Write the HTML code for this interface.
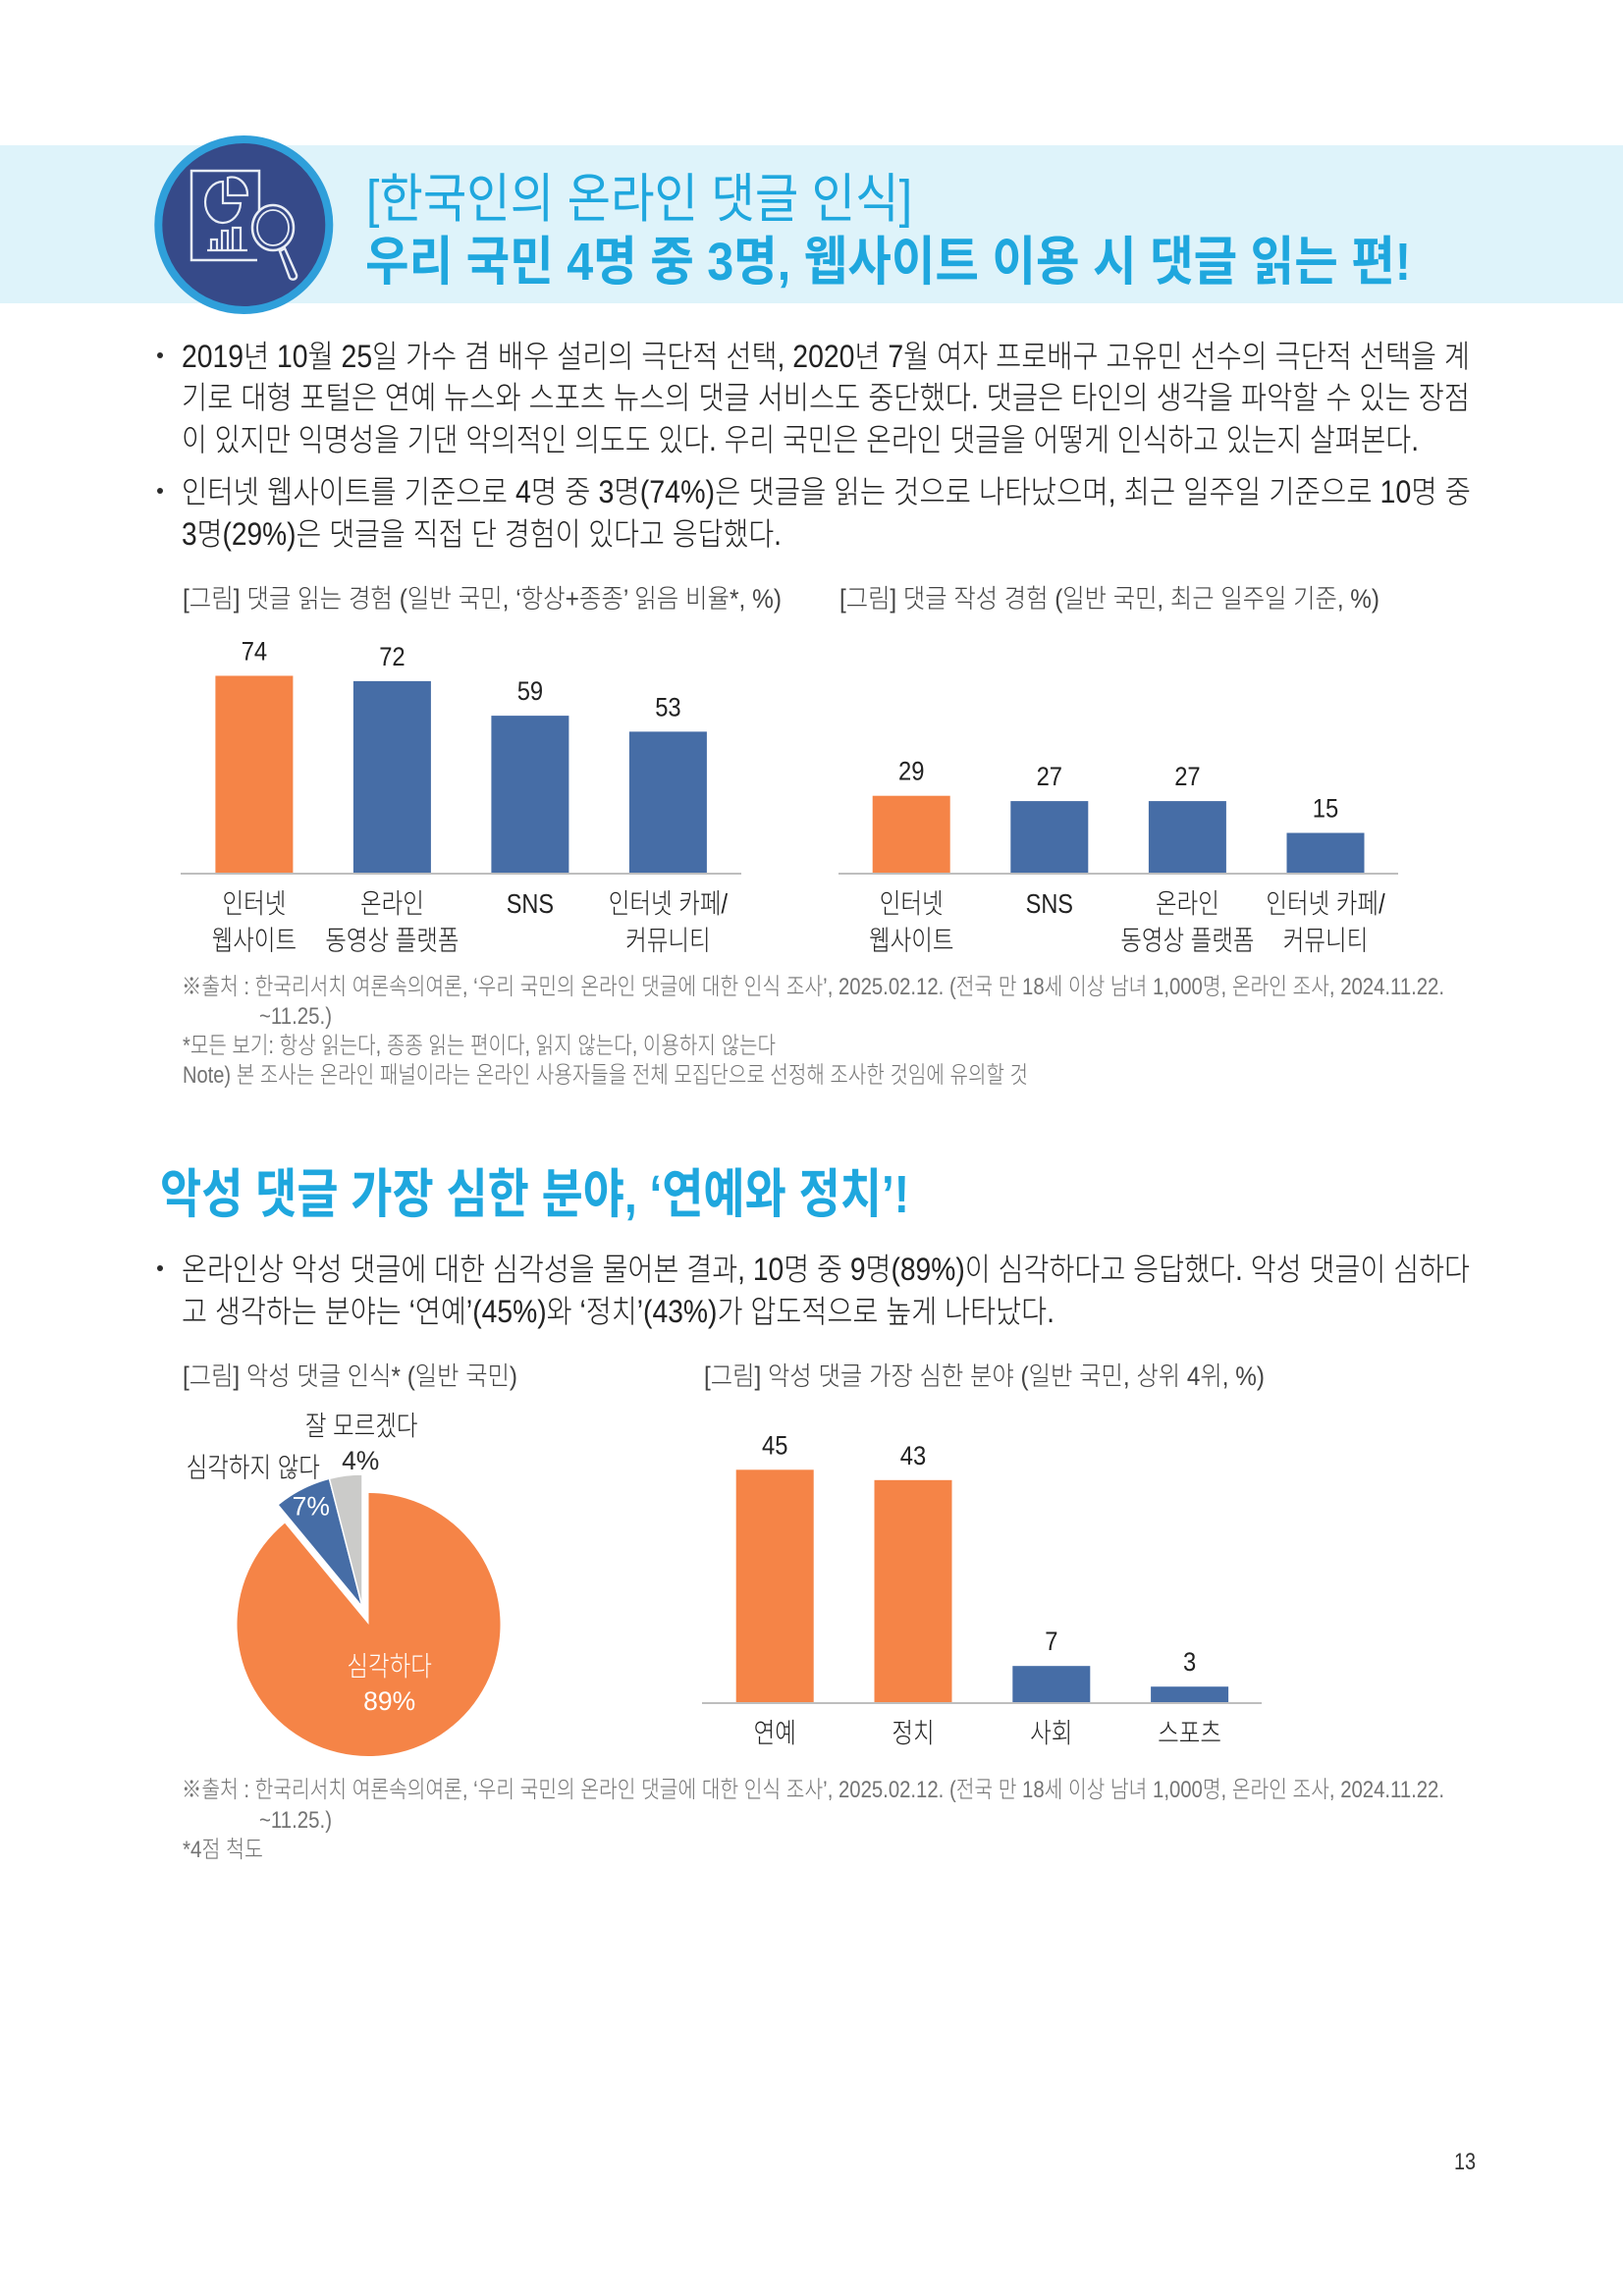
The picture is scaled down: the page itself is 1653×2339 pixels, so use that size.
<!DOCTYPE html>
<html lang="ko">
<head>
<meta charset="utf-8">
<title>한국인의 온라인 댓글 인식</title>
<style>
html,body{margin:0;padding:0;background:#fff;}
svg{display:block;}
text{font-family:"Liberation Sans","Noto Sans CJK KR",sans-serif;font-weight:300;}
.body{font-size:32px;fill:#222;}
.cap{font-size:26.5px;fill:#444;}
.note{font-size:24px;fill:#737373;}
.head{font-size:54px;fill:#1fa7de;}
.reg{font-weight:400;}
.b{font-weight:700;}
</style>
</head>
<body>
<svg id="page" xmlns="http://www.w3.org/2000/svg" width="1653" height="2339" viewBox="0 0 1653 2339">
  <rect x="0" y="148" width="1653" height="161" fill="#def3fa"/>
  <g>
    <circle cx="248.3" cy="229" r="87" fill="#364a89" stroke="#2f9fda" stroke-width="8"/>
    <path d="M264 250V174H195V265H262" fill="none" stroke="#e8edf5" stroke-width="2.5"/>
    <path d="M227 185A18 21 0 1 0 245 207H227ZM232 181A16 18 0 0 1 252 199H232Z" fill="none" stroke="#e8edf5" stroke-width="2.2"/>
    <path d="M215 255V244H221V255M226 255V235H232V255M237 255V232H245V255M211 255H252" fill="none" stroke="#e8edf5" stroke-width="2.2"/>
    <ellipse cx="278" cy="232" rx="21" ry="23" fill="#364a89" stroke="#e8edf5" stroke-width="2.5"/>
    <ellipse cx="278" cy="232" rx="16" ry="18" fill="none" stroke="#e8edf5" stroke-width="1.8"/>
    <path d="M285 256L290 253L302 280C303 285 297 286 295 283Z" fill="none" stroke="#e8edf5" stroke-width="2.4"/>
  </g>
  <text class="head reg" x="373" y="221" textLength="556" lengthAdjust="spacingAndGlyphs">[한국인의 온라인 댓글 인식]</text>
  <text class="head b" x="372" y="285" textLength="1065" lengthAdjust="spacingAndGlyphs">우리 국민 4명 중 3명, 웹사이트 이용 시 댓글 읽는 편!</text>

  <circle cx="163" cy="362" r="3" fill="#2b2b2b"/>
  <text class="body" x="185" y="374" textLength="1312" lengthAdjust="spacingAndGlyphs">2019년 10월 25일 가수 겸 배우 설리의 극단적 선택, 2020년 7월 여자 프로배구 고유민 선수의 극단적 선택을 계</text>
  <text class="body" x="185" y="416" textLength="1312" lengthAdjust="spacingAndGlyphs">기로 대형 포털은 연예 뉴스와 스포츠 뉴스의 댓글 서비스도 중단했다. 댓글은 타인의 생각을 파악할 수 있는 장점</text>
  <text class="body" x="185" y="459" textLength="1260" lengthAdjust="spacingAndGlyphs">이 있지만 익명성을 기댄 악의적인 의도도 있다. 우리 국민은 온라인 댓글을 어떻게 인식하고 있는지 살펴본다.</text>
  <circle cx="163" cy="500" r="3" fill="#2b2b2b"/>
  <text class="body" x="185" y="512" textLength="1313" lengthAdjust="spacingAndGlyphs">인터넷 웹사이트를 기준으로 4명 중 3명(74%)은 댓글을 읽는 것으로 나타났으며, 최근 일주일 기준으로 10명 중</text>
  <text class="body" x="185" y="555" textLength="611" lengthAdjust="spacingAndGlyphs">3명(29%)은 댓글을 직접 단 경험이 있다고 응답했다.</text>

  <text class="cap" x="186" y="619" textLength="610" lengthAdjust="spacingAndGlyphs">[그림] 댓글 읽는 경험 (일반 국민, ‘항상+종종’ 읽음 비율*, %)</text>
  <text class="cap" x="855" y="619" textLength="550" lengthAdjust="spacingAndGlyphs">[그림] 댓글 작성 경험 (일반 국민, 최근 일주일 기준, %)</text>
  <g id="chart-reading"></g>
  <g id="chart-writing"></g>

  <text class="note" x="185" y="1013" textLength="1286" lengthAdjust="spacingAndGlyphs">※출처 : 한국리서치 여론속의여론, ‘우리 국민의 온라인 댓글에 대한 인식 조사’, 2025.02.12. (전국 만 18세 이상 남녀 1,000명, 온라인 조사, 2024.11.22.</text>
  <text class="note" x="264" y="1043" textLength="74" lengthAdjust="spacingAndGlyphs">~11.25.)</text>
  <text class="note" x="186" y="1073" textLength="604" lengthAdjust="spacingAndGlyphs">*모든 보기: 항상 읽는다, 종종 읽는 편이다, 읽지 않는다, 이용하지 않는다</text>
  <text class="note" x="186" y="1103" textLength="861" lengthAdjust="spacingAndGlyphs">Note) 본 조사는 온라인 패널이라는 온라인 사용자들을 전체 모집단으로 선정해 조사한 것임에 유의할 것</text>

  <text class="head b" x="163" y="1235" textLength="763" lengthAdjust="spacingAndGlyphs">악성 댓글 가장 심한 분야, ‘연예와 정치’!</text>
  <circle cx="163" cy="1292" r="3" fill="#2b2b2b"/>
  <text class="body" x="185" y="1304" textLength="1312" lengthAdjust="spacingAndGlyphs">온라인상 악성 댓글에 대한 심각성을 물어본 결과, 10명 중 9명(89%)이 심각하다고 응답했다. 악성 댓글이 심하다</text>
  <text class="body" x="185" y="1347" textLength="889" lengthAdjust="spacingAndGlyphs">고 생각하는 분야는 ‘연예’(45%)와 ‘정치’(43%)가 압도적으로 높게 나타났다.</text>

  <text class="cap" x="186" y="1411" textLength="341" lengthAdjust="spacingAndGlyphs">[그림] 악성 댓글 인식* (일반 국민)</text>
  <text class="cap" x="717" y="1411" textLength="571" lengthAdjust="spacingAndGlyphs">[그림] 악성 댓글 가장 심한 분야 (일반 국민, 상위 4위, %)</text>
  <g id="chart-pie"></g>
  <g id="chart-fields"></g>

  <text class="note" x="185" y="1831" textLength="1286" lengthAdjust="spacingAndGlyphs">※출처 : 한국리서치 여론속의여론, ‘우리 국민의 온라인 댓글에 대한 인식 조사’, 2025.02.12. (전국 만 18세 이상 남녀 1,000명, 온라인 조사, 2024.11.22.</text>
  <text class="note" x="264" y="1862" textLength="74" lengthAdjust="spacingAndGlyphs">~11.25.)</text>
  <text class="note" x="186" y="1892" textLength="82" lengthAdjust="spacingAndGlyphs">*4점 척도</text>
  <text x="1481" y="2210" font-size="24" fill="#333" textLength="22" lengthAdjust="spacingAndGlyphs">13</text>
</svg>
<script>
const readingCategories = [['인터넷','웹사이트'],['온라인','동영상 플랫폼'],['SNS'],['인터넷 카페/','커뮤니티']];
const readingValues = [74,72,59,53];
const readingHighlighted = ['인터넷'];
const writingCategories = [['인터넷','웹사이트'],['SNS'],['온라인','동영상 플랫폼'],['인터넷 카페/','커뮤니티']];
const writingValues = [29,27,27,15];
const writingHighlighted = ['인터넷'];
const fieldCategories = [['연예'],['정치'],['사회'],['스포츠']];
const fieldValues = [45,43,7,3];
const fieldHighlighted = ['연예','정치'];
const pieCategories = ['심각하다','심각하지 않다','잘 모르겠다'];
const pieValues = [89,7,4];

const NS = 'http://www.w3.org/2000/svg';
const ORANGE = '#f58447', BLUE = '#466da6', GREY = '#cbcbc9';

function svgText(parent, str, x, y, size, fill, squeeze) {
  const t = document.createElementNS(NS, 'text');
  t.textContent = str;
  t.setAttribute('text-anchor', 'middle');
  t.setAttribute('font-size', size);
  t.setAttribute('fill', fill);
  t.setAttribute('transform', 'translate(' + x + ',' + y + ') scale(' + squeeze + ',1)');
  parent.appendChild(t);
  return t;
}

function drawBars(group, categories, values, highlighted, geom) {
  const xScale = i => geom.x0 + i * geom.step;
  const yScale = v => geom.base - v * geom.k;
  values.forEach((v, i) => {
    const r = document.createElementNS(NS, 'rect');
    
    
    r.setAttribute('x', xScale(i) - geom.w / 2);
    r.setAttribute('y', yScale(v));
    r.setAttribute('width', geom.w);
    r.setAttribute('height', geom.base - yScale(v));
    r.setAttribute('fill', highlighted.includes(categories[i][0]) ? ORANGE : BLUE);
    group.appendChild(r);
    const label = svgText(group, String(v), xScale(i), yScale(v) - 16, 27, '#222', 0.88);
    
    
    categories[i].forEach((line, j) => {
      const c = svgText(group, line, xScale(i), geom.labelY + j * 37.5, 28, '#222', 0.84);
      
      
    });
  });
  const axis = document.createElementNS(NS, 'line');
  
  
  axis.setAttribute('x1', geom.ax0);
  axis.setAttribute('x2', geom.ax1);
  axis.setAttribute('y1', geom.base + 1);
  axis.setAttribute('y2', geom.base + 1);
  axis.setAttribute('stroke', '#a8a8a8');
  axis.setAttribute('stroke-width', 1.5);
  group.appendChild(axis);
}

drawBars(document.getElementById('chart-reading'), readingCategories, readingValues, readingHighlighted,
  {x0:258.9, step:140.5, w:79, base:889, k:2.71, labelY:930, ax0:184, ax1:755});
drawBars(document.getElementById('chart-writing'), writingCategories, writingValues, writingHighlighted,
  {x0:928.2, step:140.6, w:79, base:889, k:2.7, labelY:930, ax0:854, ax1:1424});
drawBars(document.getElementById('chart-fields'), fieldCategories, fieldValues, fieldHighlighted,
  {x0:789.2, step:140.8, w:79, base:1734, k:5.26, labelY:1775, ax0:715, ax1:1285});

(function drawPie() {
  const g = document.getElementById('chart-pie');
  const total = pieValues.reduce((a, b) => a + b, 0);
  const angle = v => v / total * 2 * Math.PI;
  const pt = (cx, cy, r, a) => [cx + r * Math.sin(a), cy - r * Math.cos(a)];
  let start = 0;
  pieValues.forEach((v, i) => {
    const end = start + angle(v);
    const mid = (start + end) / 2;
    const cx = i === 0 ? 375.5 : 369;
    const cy = i === 0 ? 1655 : 1637;
    const r = i === 0 ? 134 : 135;
    const a = pt(cx, cy, r, start), b = pt(cx, cy, r, end);
    const p = document.createElementNS(NS, 'path');
    
    
    p.setAttribute('d', 'M' + cx + ' ' + cy + 'L' + a[0] + ' ' + a[1] + 'A' + r + ' ' + r + ' 0 ' + (end - start > Math.PI ? 1 : 0) + ' 1 ' + b[0] + ' ' + b[1] + 'Z');
    p.setAttribute('fill', [ORANGE, BLUE, GREY][i]);
    p.setAttribute('stroke', '#fff');
    p.setAttribute('stroke-width', i === 0 ? 0 : 1.5);
    g.appendChild(p);
    const rho = [83, 115, 150][i];
    const nudge = [-7, 0, 17][i];
    const lp = pt(cx, cy, rho, mid);
    const valueText = svgText(g, v + '%', lp[0] + nudge, lp[1] + 9, 27, i === 2 ? '#2b2b2b' : '#fff', 0.98);
    
    
    const nameOffset = [[0, -35], [-59, -39], [1, -35]][i];
    const nameText = svgText(g, pieCategories[i], lp[0] + nudge + nameOffset[0], lp[1] + 9 + nameOffset[1], 28, i === 0 ? '#fff' : '#222', 0.84);
    
    
    start = end;
  });
})();
</script>
</body>
</html>
